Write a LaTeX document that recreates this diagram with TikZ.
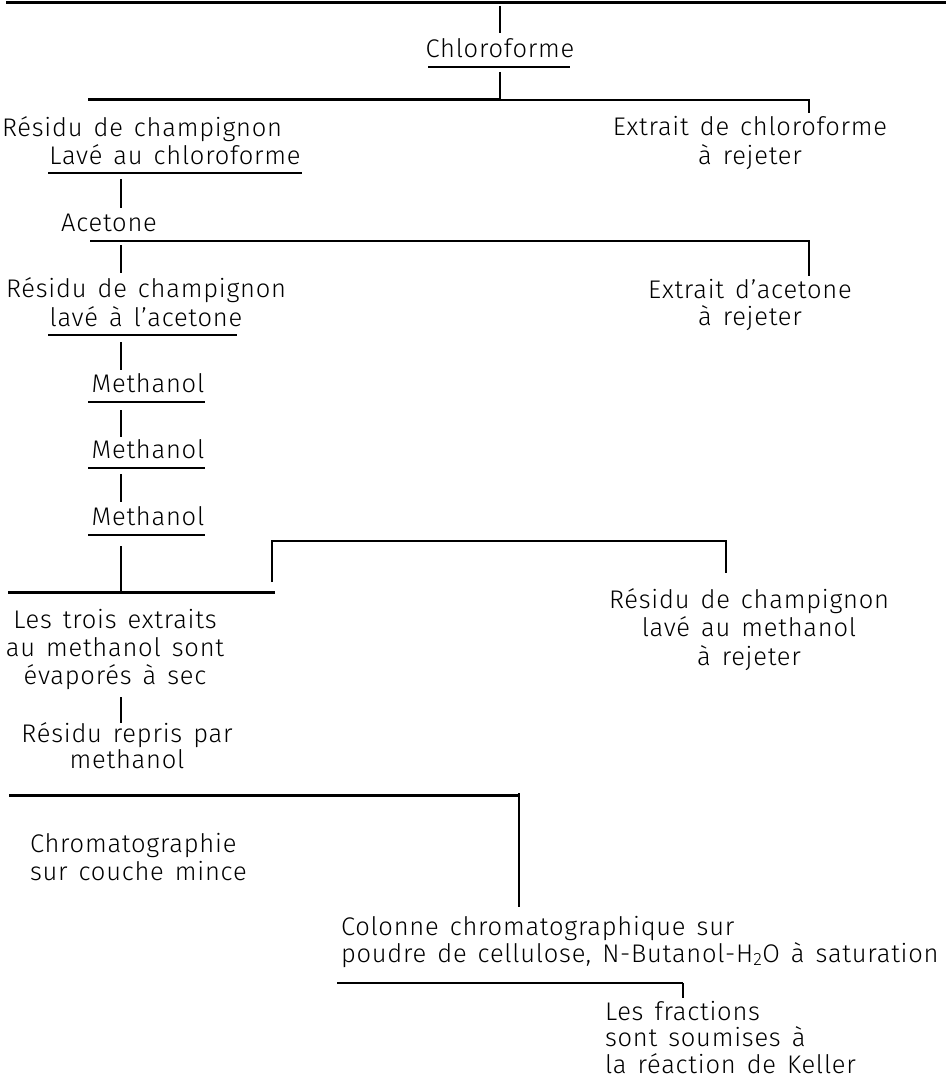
\documentclass[tikz,border=0pt]{standalone}
\usepackage{fontspec}
\setmainfont{Fira Sans}[UprightFont=* Light, LetterSpace=3, WordSpace=1.4]
\tikzset{%
    txt/.style={inner sep=0pt, outer sep=0pt, anchor=base, align=center,
        font=\fontsize{25.5}{#1}\selectfont},
    txt/.default=27,
    txtl/.style={txt=#1, anchor=base west, align=left},
    txtl/.default=27,
    rule/.style={line width=1.3pt},
    stem/.style={line width=2pt},
    heavy/.style={line width=3pt}
}
\begin{document}
\begin{tikzpicture}[x=1pt,y=-1pt]
    \useasboundingbox (0,0) rectangle (946,1083);
    % (multi-line nodes sit on the baseline of their last line)

    % chloroform wash
    \draw[heavy] (6,3) -- (946,3);
    \node[txt] (chloro) at (500,58) {Chloroforme};
    \coordinate (s1) at (500,100);
    \draw[stem] (500,6) -- (500,33);
    \draw[rule] (428,67) -- (570,67);
    \draw[stem] (500,72) -- (s1);
    \draw[heavy] (88,100) -- (s1);
    \draw[rule] (s1) -- (809,100) -- (809,113);

    \node[txt] (resA) at (142,137) {Résidu de champignon};
    \node[txt] (lavA) at (175,165) {Lavé au chloroforme};
    \node[txt=29] (extA) at (750,165) {Extrait de chloroforme\\à rejeter};
    \draw[rule] (48,173) -- (302,173);

    % acetone wash
    \draw[stem] (121,179) -- (121,208);
    \node[txt] (acet) at (109,232) {Acetone};
    \coordinate (s2) at (809,241);
    \draw[rule, line width=1.6pt] (90,241) -- (s2) -- (809,276);
    \draw[stem] (121,245) -- (121,273);
    \node[txt=29] (resB) at (146,326) {Résidu de champignon\\lavé à l'acetone};
    \node[txt] (extB) at (750,325) {Extrait d'acetone\\à rejeter};
    \draw[rule] (48,335) -- (237,335);

    % three methanol extractions
    \draw[stem] (121,342) -- (121,370);
    \node[txt] (methA) at (148,392) {Methanol};
    \draw[rule] (88,402) -- (205,402);
    \draw[stem] (121,410) -- (121,437);
    \node[txt] (methB) at (148,458) {Methanol};
    \draw[rule] (88,468) -- (205,468);
    \draw[stem] (121,474) -- (121,502);
    \node[txt] (methC) at (148,525) {Methanol};
    \draw[rule] (88,535) -- (205,535);
    \draw[line width=2.5pt] (121,546) -- (121,591);
    \draw[heavy] (8,592) -- (275,592);
    \draw[rule, line width=1.2pt] (272,582) -- (272,541) -- (726,541) -- (726,573);

    \node[txt=28] (evap) at (115,684) {Les trois extraits\\au methanol sont\\évaporés à sec};
    \node[txt=28.5] (resC) at (749,665) {Résidu de champignon\\lavé au methanol\\à rejeter};
    \draw[stem] (121,697) -- (121,723);
    \node[txt=26] (repris) at (127,768) {Résidu repris par\\methanol};

    % chromatography
    \coordinate (s3) at (519,795);
    \draw[heavy] (9,795) -- (s3);
    \draw[stem] (519,793) -- (519,907);
    \node[txtl=28] (ccm) at (30,880) {Chromatographie\\sur couche mince};
    \node[txtl] (colonne) at (341,962)
        {Colonne chromatographique sur\\poudre de cellulose, N-Butanol-H\textsubscript{2}O à saturation};
    \coordinate (s4) at (683,983);
    \draw[line width=2.2pt] (337,983) -- (s4);
    \draw[stem] (s4) -- (683,998);
    \node[txtl=26.5] (fractions) at (605,1073) {Les fractions\\sont soumises à\\la réaction de Keller};
\end{tikzpicture}
\end{document}
